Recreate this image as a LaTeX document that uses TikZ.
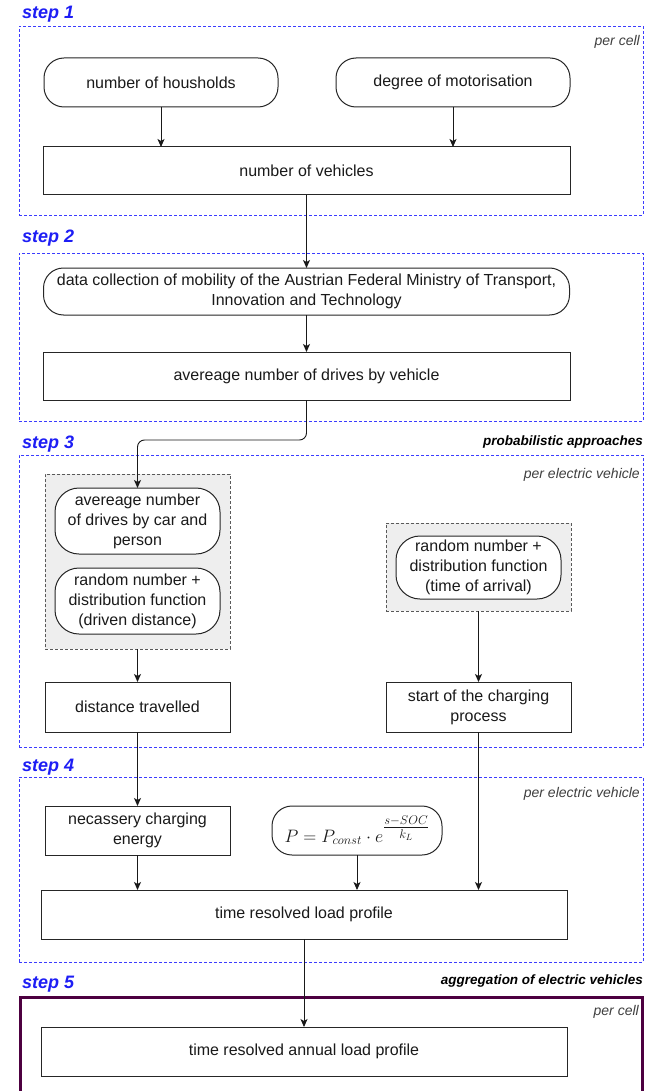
\documentclass[tikz,border=0pt]{standalone}
\usepackage{fix-cm}
\usepackage{amsmath}
\usepackage{fontspec}
\setmainfont{Liberation Sans}
\usetikzlibrary{arrows.meta}
\definecolor{stepblue}{HTML}{1E1EF5}
\definecolor{dashblue}{HTML}{3C3CFF}
\definecolor{aggpurple}{HTML}{4D0040}
\definecolor{txt}{HTML}{1A1A1A}
\definecolor{greyfill}{HTML}{EEEEEE}
\tikzset{
  stepbox/.style={draw=dashblue, line width=0.9pt, dash pattern=on 3pt off 2pt, inner sep=0pt, outer sep=0pt},
  rectbox/.style={draw=black!85, fill=white, line width=1pt, inner sep=2pt, outer sep=0pt, align=center, text=txt,
    font=\fontsize{16}{20}\selectfont},
  pill/.style={rectbox, rounded corners=20pt},
  greybox/.style={draw=black!65, fill=greyfill, line width=0.8pt, dash pattern=on 3pt off 2pt, inner sep=0pt, outer sep=0pt},
  steplabel/.style={anchor=base west, text=stepblue, inner sep=0pt, font=\fontsize{18}{20}\selectfont\bfseries\itshape},
  headnote/.style={anchor=base east, text=black, inner sep=0pt, font=\fontsize{13.5}{15}\selectfont\bfseries\itshape},
  note/.style={anchor=base east, text=black!75, inner sep=0pt, font=\fontsize{14}{16}\selectfont\itshape},
  arr/.style={draw=black!90, line width=0.9pt, -{Stealth[length=8pt,width=7pt,inset=2pt]}}
}
\begin{document}
\begin{tikzpicture}[x=1pt,y=-1pt]
\useasboundingbox[fill=white] (0,0) rectangle (660,1091);

% ---------- step 1 ----------
\node[stepbox, minimum width=624, minimum height=189] (s1) at (331,120.5) {};
\node[steplabel] (l1) at (22,18.5) {step 1};
\node[note] (pc1) at (640,46) {per cell};
\node[pill, minimum width=234, minimum height=49] (h) at (161,82.5) {number of housholds};
\node[pill, minimum width=234, minimum height=49] (m) at (453,82.5) {degree of motorisation};
\node[rectbox, minimum width=527, minimum height=48] (v) at (306.5,171) {number of vehicles};
\draw[arr] (h.south) -- (h.south |- v.north);
\draw[arr] (m.south) -- (m.south |- v.north);

% ---------- step 2 ----------
\node[stepbox, minimum width=624, minimum height=168] (s2) at (331,337) {};
\node[steplabel] (l2) at (22,242.5) {step 2};
\node[pill, minimum width=526, minimum height=47] (dc) at (306.5,291.5)
  {data collection of mobility of the Austrian Federal Ministry of Transport,\\Innovation and Technology};
\node[rectbox, minimum width=527, minimum height=48] (av) at (306.5,376) {avereage number of drives by vehicle};
\draw[arr] (v.south) -- (v.south |- dc.north);
\draw[arr] (dc.south) -- (dc.south |- av.north);

% ---------- step 3 ----------
\node[stepbox, minimum width=624, minimum height=292] (s3) at (331,601) {};
\node[steplabel] (l3) at (22,448) {step 3};
\node[headnote] (pa) at (643,445) {probabilistic approaches};
\node[note] (pev3) at (640,478) {per electric vehicle};
\node[greybox, minimum width=185, minimum height=175] (g1) at (137.5,561.5) {};
\node[pill, rounded corners=24pt, minimum width=165, minimum height=66] (a1) at (137.5,521)
  {avereage number\\of drives by car and\\person};
\node[pill, rounded corners=24pt, minimum width=165, minimum height=66] (r1) at (137.5,601)
  {random number +\\distribution function\\(driven distance)};
\node[greybox, minimum width=185, minimum height=88] (g2) at (478.5,567) {};
\node[pill, rounded corners=24pt, minimum width=165, minimum height=63] (r2) at (478.5,567.5)
  {random number +\\distribution function\\(time of arrival)};
\node[rectbox, minimum width=185, minimum height=50] (dt) at (137.5,707) {distance travelled};
\node[rectbox, minimum width=185, minimum height=50] (sc) at (478.5,707) {start of the charging\\process};
\coordinate (yb) at (0,440);
\draw[arr, rounded corners=7pt] (av.south) -- (av.south |- yb) -| (a1.north);
\draw[arr] (g1.south) -- (dt.north);
\draw[arr] (g2.south) -- (sc.north);

% ---------- step 4 ----------
\node[stepbox, minimum width=624, minimum height=185] (s4) at (331,869.5) {};
\node[steplabel] (l4) at (22,771) {step 4};
\node[note] (pev4) at (640,797) {per electric vehicle};
\node[rectbox, minimum width=185, minimum height=49] (ne) at (137.5,830.5) {necassery charging\\energy};
\node[pill, minimum width=170, minimum height=49, font=\fontsize{18}{20}\selectfont] (fo) at (357,830.5)
  {$P = P_{const}\cdot e^{\genfrac{}{}{}{1}{s-SOC}{k_L}}$};
\node[rectbox, minimum width=526, minimum height=49] (lp) at (304,914.5) {time resolved load profile};
\draw[arr] (dt.south) -- (ne.north);
\draw[arr] (ne.south) -- (ne.south |- lp.north);
\draw[arr] (fo.south) -- (fo.south |- lp.north);
\draw[arr] (sc.south) -- (sc.south |- lp.north);

% ---------- step 5 ----------
\node[steplabel] (l5) at (22,988) {step 5};
\node[headnote] (ag) at (643,984) {aggregation of electric vehicles};
\node[draw=aggpurple, line width=3pt, inner sep=0pt, outer sep=0pt, minimum width=622, minimum height=120] (s5) at (331,1057) {};
\node[note] (pc5) at (639,1015) {per cell};
\node[rectbox, minimum width=526, minimum height=49] (an) at (304,1051.5) {time resolved annual load profile};
\draw[arr] (lp.south) -- (an.north);
\end{tikzpicture}
\end{document}
